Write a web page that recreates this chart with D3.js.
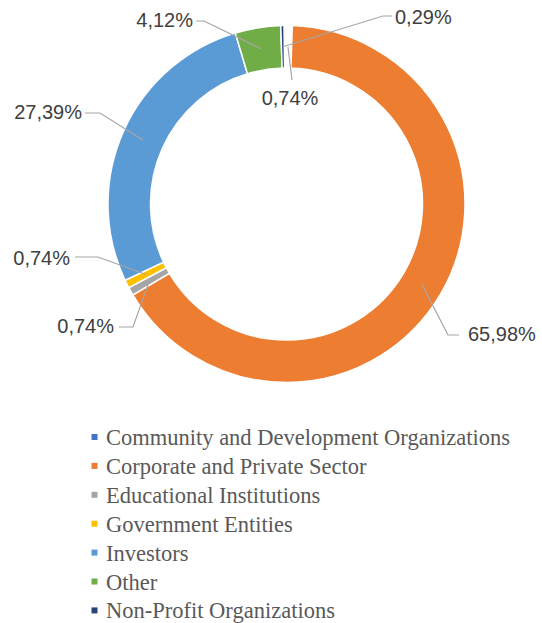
<!DOCTYPE html>
<html>
<head>
<meta charset="utf-8">
<script src="https://cdn.jsdelivr.net/npm/d3@7/dist/d3.min.js"></script>
<style>
  html, body { margin: 0; padding: 0; background: #fff; }
  svg { display: block; }
</style>
</head>
<body>
<svg id="chart" width="542" height="623"></svg>
<script>
// Stakeholder share, in percent, clockwise from the top of the ring
const categories = [
  "Community and Development Organizations",
  "Corporate and Private Sector",
  "Educational Institutions",
  "Government Entities",
  "Investors",
  "Other",
  "Non-Profit Organizations"
];
const shares = [0.74, 65.98, 0.74, 0.74, 27.39, 4.12, 0.29];
const colors = ["#4472C4", "#ED7D31", "#A5A5A5", "#FFC000", "#5B9BD5", "#70AD47", "#264478"];
// the community slice is left unfilled in the ring (legend keeps its colour)
const ringFills = ["#FFFFFF", "#ED7D31", "#A5A5A5", "#FFC000", "#5B9BD5", "#70AD47", "#264478"];

// label placement: text anchor point and the elbow of each leader line
const labelLayout = [
  { x: 290, y: 105, anchor: "middle", elbow: [[292, 80]] },
  { x: 468, y: 341, anchor: "start",  elbow: [[448, 335], [459, 335]] },
  { x: 114, y: 333, anchor: "end",    elbow: [[133, 327], [119, 327]] },
  { x: 70,  y: 265, anchor: "end",    elbow: [[98, 257], [75, 257]] },
  { x: 82,  y: 119, anchor: "end",    elbow: [[100, 113], [85, 113]] },
  { x: 193, y: 27,  anchor: "end",    elbow: [[204, 21], [196, 21]] },
  { x: 395, y: 24,  anchor: "start",  elbow: [[383, 16], [392, 16]] }
];

const svg = d3.select("#chart");
const cx = 286.5, cy = 204;
const outerR = 178.5, innerR = 136;
const offset = -0.8 * Math.PI / 180;

const pie = d3.pie().sort(null).value(d => d)
  .startAngle(offset).endAngle(offset + 2 * Math.PI);
const arcs = pie(shares);
const arc = d3.arc().innerRadius(innerR).outerRadius(outerR);

const g = svg.append("g").attr("transform", `translate(${cx},${cy})`);

g.selectAll("path.slice")
  .data(arcs)
  .join("path")
  .attr("class", "slice")
  .attr("d", arc)
  .attr("fill", (d, i) => ringFills[i])
  .attr("stroke", "#fff")
  .attr("stroke-width", 1.5);

// leader lines from the middle of each slice to its label
const fmt = v => d3.format(".2f")(v).replace(".", ",") + "%";

const labels = svg.append("g");
arcs.forEach((d, i) => {
  const c = arc.centroid(d);
  const start = [cx + c[0], cy + c[1]];
  const pts = [start].concat(labelLayout[i].elbow);
  labels.append("path")
    .attr("d", d3.line()(pts))
    .attr("fill", "none")
    .attr("stroke", "#A6A6A6")
    .attr("stroke-width", 1.2);
  labels.append("text")
    .attr("x", labelLayout[i].x)
    .attr("y", labelLayout[i].y)
    .attr("text-anchor", labelLayout[i].anchor)
    .attr("font-family", "'Liberation Sans', Arial, sans-serif")
    .attr("font-size", 20)
    .attr("fill", "#404040")
    .text(fmt(shares[i]));
});

// legend
const rows = d3.scaleBand()
  .domain(categories)
  .range([424, 424 + 28.9 * categories.length]);

const legend = svg.append("g");
const item = legend.selectAll("g")
  .data(categories)
  .join("g")
  .attr("transform", d => `translate(0,${rows(d)})`);

item.append("rect")
  .attr("x", 91.5)
  .attr("y", 10)
  .attr("width", 6)
  .attr("height", 6)
  .attr("fill", (d, i) => colors[i]);

item.append("text")
  .attr("x", 106)
  .attr("y", 21)
  .attr("font-family", "'Liberation Serif', 'Times New Roman', serif")
  .attr("font-size", 22.5)
  .attr("fill", "#595959")
  .text(d => d);
</script>
</body>
</html>
